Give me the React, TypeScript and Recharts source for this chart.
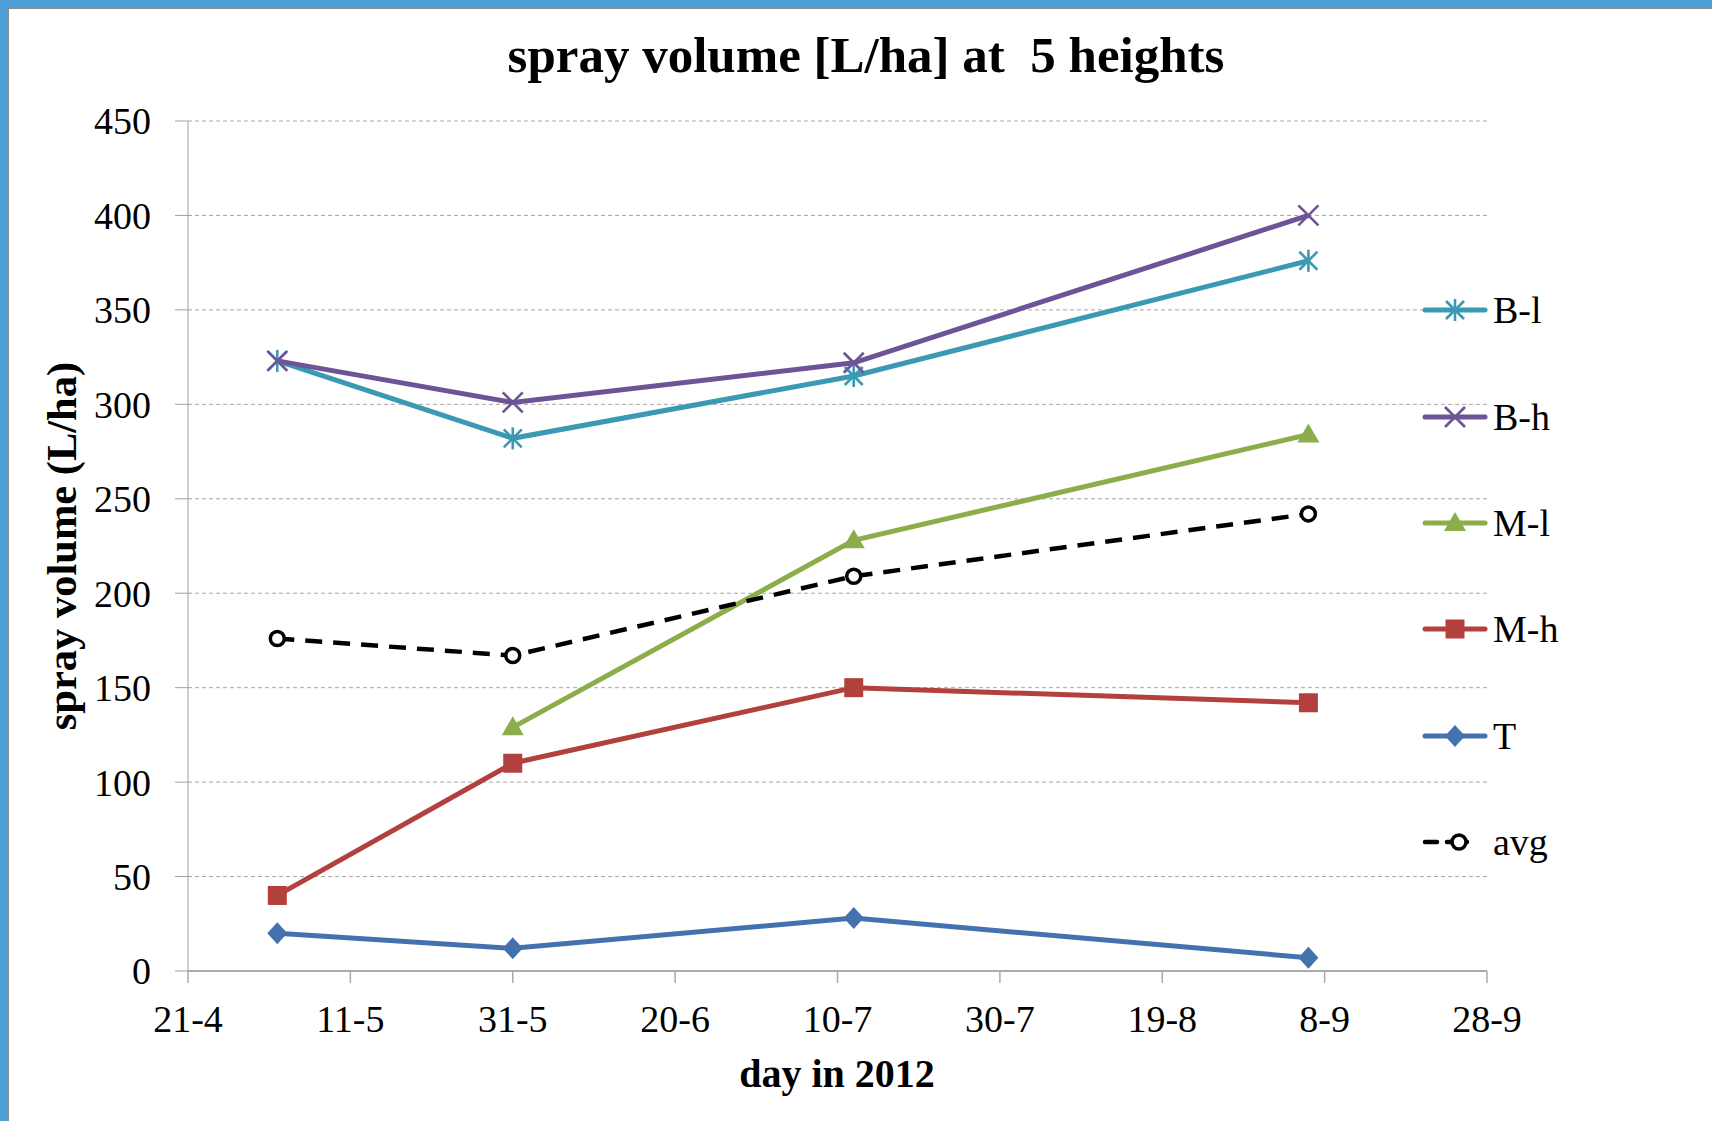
import React from "react";
import {
  LineChart,
  Line,
  XAxis,
  YAxis,
  CartesianGrid,
} from "recharts";

// day-of-year 2012 for each measurement
const measureDays = [123, 152, 194, 250];

const blValues = [323, 282, 315, 376];
const bhValues = [323, 301, 322, 400];
const mlValues: (number | null)[] = [null, 129, 228, 284];
const mhValues = [40, 110, 150, 142];
const tValues = [20, 12, 28, 7];
const avgValues = [176, 167, 209, 242];

const xTicks = [112, 132, 152, 172, 192, 212, 232, 252, 272];
const xTickLabels = ["21-4", "11-5", "31-5", "20-6", "10-7", "30-7", "19-8", "8-9", "28-9"];
const yTicks = [0, 50, 100, 150, 200, 250, 300, 350, 400, 450];

const FONT = "'Liberation Serif', 'Times New Roman', serif";

type Shape = "asterisk" | "x" | "triangle" | "square" | "diamond" | "circle";

const SERIES: { key: string; name: string; color: string; shape: Shape; dashed?: boolean }[] = [
  { key: "bl", name: "B-l", color: "#3A9AB3", shape: "asterisk" },
  { key: "bh", name: "B-h", color: "#6C5497", shape: "x" },
  { key: "ml", name: "M-l", color: "#8BAD4A", shape: "triangle" },
  { key: "mh", name: "M-h", color: "#B2403D", shape: "square" },
  { key: "t", name: "T", color: "#4472AE", shape: "diamond" },
  { key: "avg", name: "avg", color: "#000000", shape: "circle", dashed: true },
];

const data = measureDays.map((day, i) => ({
  day,
  bl: blValues[i],
  bh: bhValues[i],
  ml: mlValues[i],
  mh: mhValues[i],
  t: tValues[i],
  avg: avgValues[i],
}));

function Marker({ shape, color, x, y }: { shape: Shape; color: string; x: number; y: number }) {
  switch (shape) {
    case "asterisk":
      return (
        <g stroke={color} strokeWidth={2.6}>
          <line x1={x - 9} y1={y - 9} x2={x + 9} y2={y + 9} />
          <line x1={x - 9} y1={y + 9} x2={x + 9} y2={y - 9} />
          <line x1={x} y1={y - 11} x2={x} y2={y + 11} />
        </g>
      );
    case "x":
      return (
        <g stroke={color} strokeWidth={2.6}>
          <line x1={x - 10} y1={y - 10} x2={x + 10} y2={y + 10} />
          <line x1={x - 10} y1={y + 10} x2={x + 10} y2={y - 10} />
        </g>
      );
    case "triangle":
      return <polygon points={`${x},${y - 11} ${x + 11},${y + 8} ${x - 11},${y + 8}`} fill={color} />;
    case "square":
      return <rect x={x - 9.5} y={y - 9.5} width={19} height={19} fill={color} />;
    case "diamond":
      return <polygon points={`${x},${y - 11} ${x + 10},${y} ${x},${y + 11} ${x - 10},${y}`} fill={color} />;
    case "circle":
      return <circle cx={x} cy={y} r={7} fill="#fff" stroke={color} strokeWidth={3.5} />;
  }
}

function makeDot(shape: Shape, color: string) {
  return (props: any) => {
    const { cx, cy, index, value } = props;
    if (cx == null || cy == null || value == null) return <g key={`e-${index}`} />;
    return (
      <g key={`d-${index}`}>
        <Marker shape={shape} color={color} x={cx} y={cy} />
      </g>
    );
  };
}

function XTick({ x, y, payload }: any) {
  const label = xTickLabels[xTicks.indexOf(payload.value)];
  return (
    <text
      x={x}
      y={y}
      dy="0.71em"
      textAnchor="middle"
      fill="#000"
      style={{ fontFamily: FONT, fontSize: 38 }}
    >
      {label}
    </text>
  );
}

function YTick({ x, y, payload }: any) {
  return (
    <text
      x={x}
      y={y}
      dy="0.355em"
      textAnchor="end"
      fill="#000"
      style={{ fontFamily: FONT, fontSize: 38 }}
    >
      {payload.value}
    </text>
  );
}

function SideLegend() {
  return (
    <div
      style={{
        position: "absolute",
        left: 1420,
        top: 257,
        width: 260,
        fontFamily: FONT,
        fontSize: 38,
        color: "#000",
      }}
    >
      {SERIES.map((s) => (
        <div key={s.key} style={{ height: 106.4, display: "flex", alignItems: "center" }}>
          <svg width={68} height={30} style={{ overflow: "visible" }}>
            {s.dashed ? (
              <g>
                <line x1={5} y1={15} x2={17} y2={15} stroke={s.color} strokeWidth={4.5} strokeLinecap="round" />
                <line x1={27} y1={15} x2={47} y2={15} stroke={s.color} strokeWidth={4.5} strokeLinecap="round" />
                <Marker shape={s.shape} color={s.color} x={39} y={15} />
              </g>
            ) : (
              <g>
                <line x1={5} y1={15} x2={65} y2={15} stroke={s.color} strokeWidth={5} strokeLinecap="round" />
                <Marker shape={s.shape} color={s.color} x={35} y={15} />
              </g>
            )}
          </svg>
          <span style={{ marginLeft: 5, lineHeight: 1 }}>{s.name}</span>
        </div>
      ))}
    </div>
  );
}

export default function App() {
  return (
    <div
      style={{
        position: "absolute",
        left: 0,
        top: 0,
        width: 1712,
        height: 1121,
        background: "#fff",
        overflow: "hidden",
        fontFamily: FONT,
      }}
    >
      <LineChart
        width={1712}
        height={1121}
        data={data}
        margin={{ top: 121, right: 225, bottom: 0, left: 0 }}
      >
        <CartesianGrid vertical={false} stroke="#A6A6A6" strokeDasharray="4 3" />
        <XAxis
          dataKey="day"
          type="number"
          domain={[112, 272]}
          ticks={xTicks}
          interval={0}
          height={150}
          tick={<XTick />}
          tickSize={12}
          tickMargin={22}
          stroke="#ABABAB"
          axisLine={{ stroke: "#ABABAB", strokeWidth: 2 }}
          tickLine={{ stroke: "#ABABAB", strokeWidth: 1.5 }}
        />
        <YAxis
          type="number"
          domain={[0, 450]}
          ticks={yTicks}
          interval={0}
          width={188}
          tick={<YTick />}
          tickSize={13}
          tickMargin={24}
          axisLine={{ stroke: "#A0A0A0", strokeWidth: 1 }}
          tickLine={{ stroke: "#A0A0A0", strokeWidth: 1 }}
        />
        {SERIES.map((s) => (
          <Line
            key={s.key}
            type="linear"
            dataKey={s.key}
            name={s.name}
            stroke={s.color}
            strokeWidth={s.dashed ? 4.5 : 5}
            strokeDasharray={s.dashed ? "17 11" : undefined}
            dot={makeDot(s.shape, s.color)}
            activeDot={false}
            isAnimationActive={false}
          />
        ))}
      </LineChart>

      <SideLegend />

      <div
        style={{
          position: "absolute",
          left: 0,
          width: 1732,
          top: 28,
          textAlign: "center",
          fontFamily: FONT,
          fontWeight: "bold",
          fontSize: 51,
          lineHeight: "54px",
          whiteSpace: "pre",
        }}
      >
        {"spray volume [L/ha] at  5 heights"}
      </div>
      <div
        style={{
          position: "absolute",
          left: 62 - 250,
          top: 546 - 25,
          width: 500,
          height: 50,
          lineHeight: "50px",
          textAlign: "center",
          transform: "rotate(-90deg)",
          fontFamily: FONT,
          fontWeight: "bold",
          fontSize: 42.5,
        }}
      >
        spray volume (L/ha)
      </div>
      <div
        style={{
          position: "absolute",
          left: 837 - 250,
          top: 1074 - 25,
          width: 500,
          lineHeight: "50px",
          textAlign: "center",
          fontFamily: FONT,
          fontWeight: "bold",
          fontSize: 40,
        }}
      >
        day in 2012
      </div>

      <div
        style={{
          position: "absolute",
          left: 0,
          top: 0,
          width: 1712,
          height: 1121,
          boxSizing: "border-box",
          borderTop: "8px solid #4D9DD6",
          borderLeft: "8px solid #4D9DD6",
          boxShadow: "inset 1px 1px 0 #8C8C8C",
          pointerEvents: "none",
        }}
      />
    </div>
  );
}
